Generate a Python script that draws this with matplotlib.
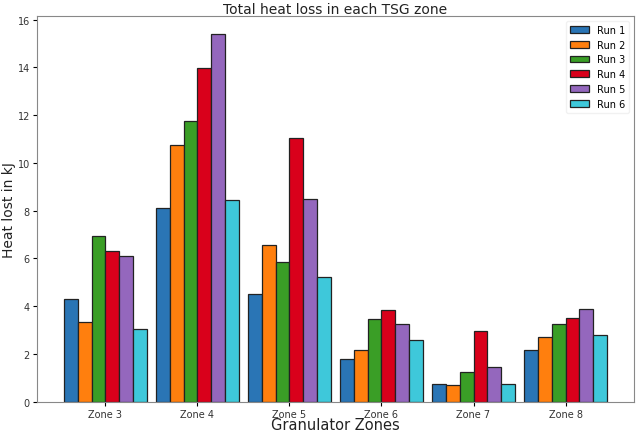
import numpy as np
import matplotlib
matplotlib.use("Agg")
import matplotlib.pyplot as plt

zones = ["Zone 3", "Zone 4", "Zone 5", "Zone 6", "Zone 7", "Zone 8"]
runs = ["Run 1", "Run 2", "Run 3", "Run 4", "Run 5", "Run 6"]
run1 = [4.30, 8.13, 4.53, 1.80, 0.76, 2.18]
run2 = [3.33, 10.76, 6.56, 2.18, 0.72, 2.70]
run3 = [6.93, 11.75, 5.86, 3.47, 1.25, 3.25]
run4 = [6.31, 13.96, 11.05, 3.85, 2.96, 3.51]
run5 = [6.11, 15.38, 8.50, 3.25, 1.46, 3.89]
run6 = [3.03, 8.46, 5.22, 2.58, 0.76, 2.78]
series = [run1, run2, run3, run4, run5, run6]
colors = ["#2a75b5", "#ff7f0e", "#3a9e26", "#d9001b", "#9467bd", "#3ec8da"]

fig = plt.figure(figsize=(6.36, 4.35), dpi=100)
ax = fig.add_axes([0.058, 0.074, 0.939, 0.887])

x = np.arange(len(zones))
w = 0.15
for i, (vals, c, lab) in enumerate(zip(series, colors, runs)):
    ax.bar(x + (i - 2.5) * w, vals, width=w, color=c, edgecolor="#222222",
           linewidth=0.9, label=lab)

ax.set_xticks(x)
ax.set_xticklabels(zones, fontsize=7, color="#333333")
ax.tick_params(axis="both", length=3, pad=2, labelsize=7, labelcolor="#333333")
ax.set_title("Total heat loss in each TSG zone", fontsize=10, color="#222222", pad=2)
ax.set_xlabel("Granulator Zones", fontsize=10.5, color="#222222", labelpad=-1)
ax.set_ylabel("Heat lost in kJ", fontsize=10, color="#222222", labelpad=1)
for s in ax.spines.values():
    s.set_color("#888888")
ax.legend(loc="upper right", fontsize=7, frameon=True, edgecolor="#eeeeee")

fig.savefig("out.png", dpi=100)
